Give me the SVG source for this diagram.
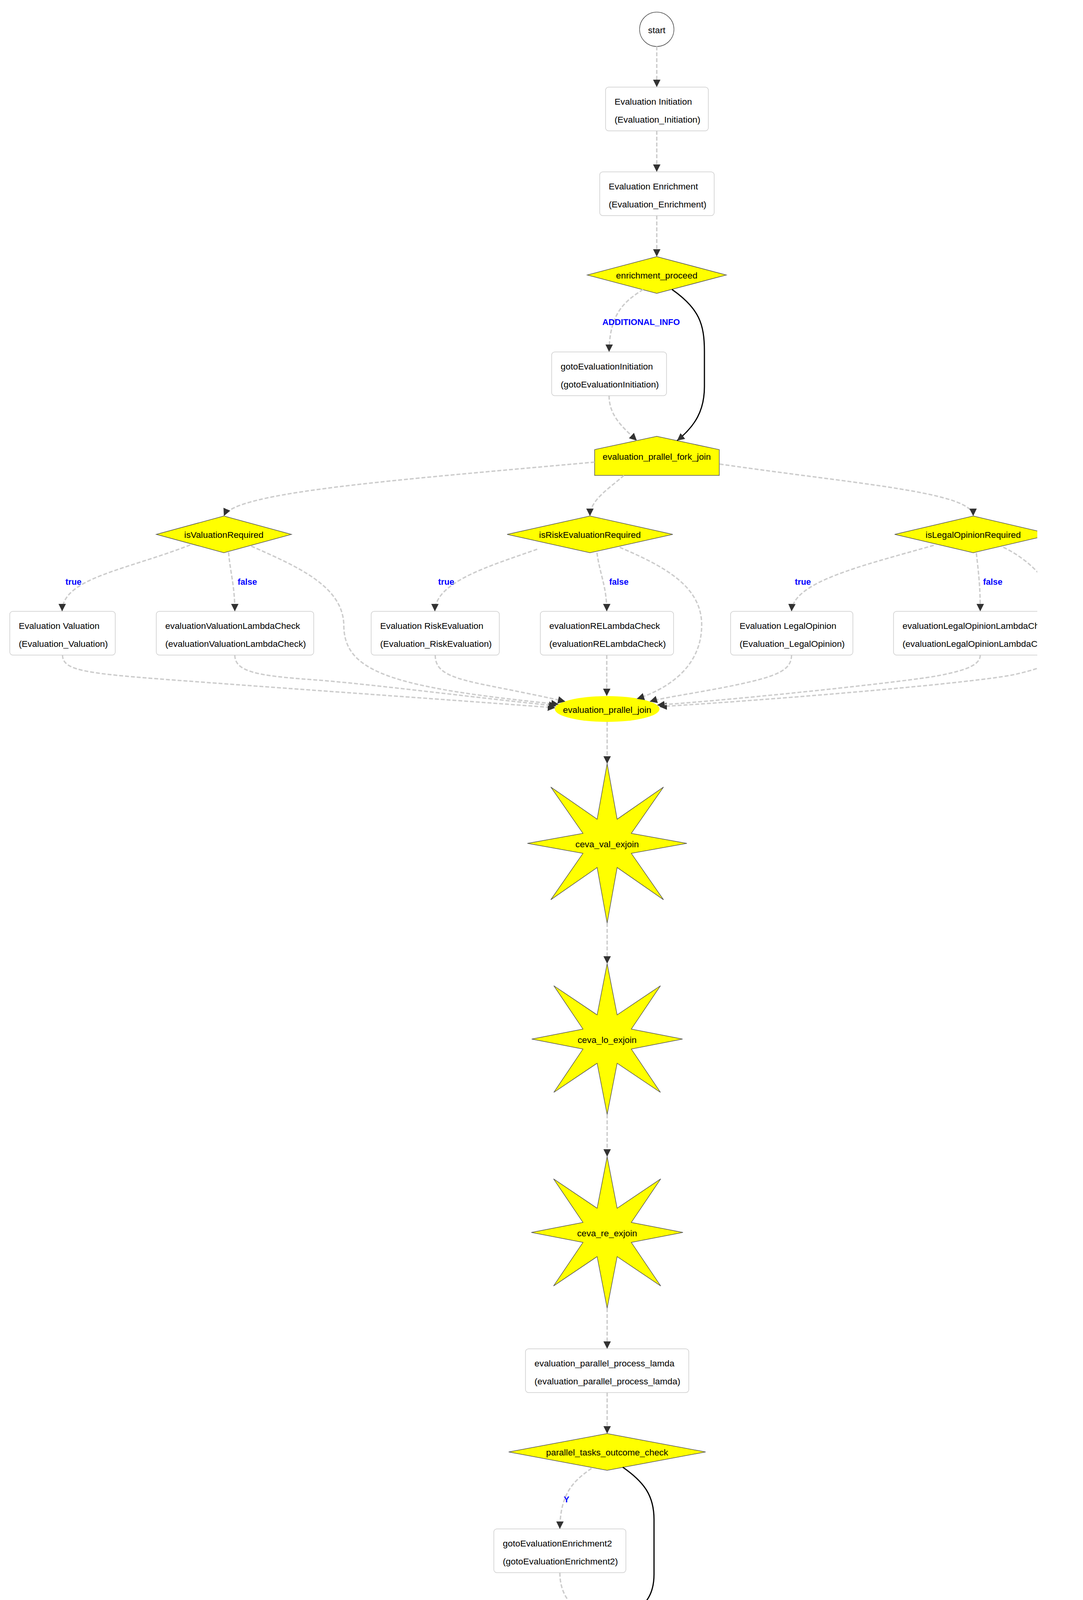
<svg xmlns="http://www.w3.org/2000/svg" width="2772" height="7256" viewBox="0 0 2772 7256">
<style>
.box{fill:#ffffff;stroke:#cccccc;stroke-width:1.5}
.dec{fill:#ffff00;stroke:#555555;stroke-width:1.5}
.circ{fill:#ffffff;stroke:#555555;stroke-width:1.5}
.t{font-family:"Liberation Sans",Arial,Helvetica,sans-serif;font-size:22.85px;fill:#000000}
.c{text-anchor:middle}
.lbl{font-family:"Liberation Sans",Arial,Helvetica,sans-serif;font-size:21.8px;font-weight:bold;fill:#0000ff;text-anchor:middle}
.dash{fill:none;stroke:#cccccc;stroke-width:3.5;stroke-dasharray:10 5;marker-end:url(#ah)}
.solid{fill:none;stroke:#000000;stroke-width:3;marker-end:url(#ah)}
</style>
<defs>
<marker id="ah" viewBox="0 0 20 20" markerWidth="20" markerHeight="20" markerUnits="userSpaceOnUse" refX="19" refY="10" orient="auto">
<path d="M0,0.5 L19,10 L0,19.5 z" fill="#333333"/>
</marker>
<clipPath id="clip"><rect x="0" y="0" width="2655" height="7256"/></clipPath>
</defs>
<rect x="0" y="0" width="2772" height="7256" fill="#ffffff"/>
<g clip-path="url(#clip)">
<g id="nodes">
<g id="start"><circle class="circ" cx="1681" cy="75" r="44"/><text class="t c" x="1681" y="85">start</text></g>
<g id="Evaluation_Initiation"><rect class="box" x="1550" y="223" width="263" height="112" rx="8"/><text class="t" x="1573" y="268">Evaluation Initiation</text><text class="t" x="1573" y="314">(Evaluation_Initiation)</text></g>
<g id="Evaluation_Enrichment"><rect class="box" x="1535" y="440" width="293" height="112" rx="8"/><text class="t" x="1558" y="485">Evaluation Enrichment</text><text class="t" x="1558" y="531">(Evaluation_Enrichment)</text></g>
<g id="enrichment_proceed"><polygon class="dec" points="1681,657 1859,704 1681,751 1503,704"/><text class="t c" x="1681" y="713">enrichment_proceed</text></g>
<g id="gotoEvaluationInitiation"><rect class="box" x="1412" y="901" width="294" height="112" rx="8"/><text class="t" x="1435" y="946">gotoEvaluationInitiation</text><text class="t" x="1435" y="992">(gotoEvaluationInitiation)</text></g>
<g id="evaluation_prallel_fork_join"><polygon class="dec" points="1681,1117 1841,1151 1841,1217 1522,1217 1522,1151"/><text class="t c" x="1681" y="1177">evaluation_prallel_fork_join</text></g>
<g id="isValuationRequired"><polygon class="dec" points="573,1321 746,1368 573,1415 400,1368"/><text class="t c" x="573" y="1377">isValuationRequired</text></g>
<g id="isRiskEvaluationRequired"><polygon class="dec" points="1510,1321 1722,1368 1510,1415 1298,1368"/><text class="t c" x="1510" y="1377">isRiskEvaluationRequired</text></g>
<g id="isLegalOpinionRequired"><polygon class="dec" points="2491,1321 2692,1368 2491,1415 2290,1368"/><text class="t c" x="2491" y="1377">isLegalOpinionRequired</text></g>
<g id="Evaluation_Valuation"><rect class="box" x="25" y="1565" width="270" height="112" rx="8"/><text class="t" x="48" y="1610">Evaluation Valuation</text><text class="t" x="48" y="1656">(Evaluation_Valuation)</text></g>
<g id="evaluationValuationLambdaCheck"><rect class="box" x="400" y="1565" width="403" height="112" rx="8"/><text class="t" x="423" y="1610">evaluationValuationLambdaCheck</text><text class="t" x="423" y="1656">(evaluationValuationLambdaCheck)</text></g>
<g id="Evaluation_RiskEvaluation"><rect class="box" x="950" y="1565" width="328" height="112" rx="8"/><text class="t" x="973" y="1610">Evaluation RiskEvaluation</text><text class="t" x="973" y="1656">(Evaluation_RiskEvaluation)</text></g>
<g id="evaluationRELambdaCheck"><rect class="box" x="1383" y="1565" width="341" height="112" rx="8"/><text class="t" x="1406" y="1610">evaluationRELambdaCheck</text><text class="t" x="1406" y="1656">(evaluationRELambdaCheck)</text></g>
<g id="Evaluation_LegalOpinion"><rect class="box" x="1870" y="1565" width="313" height="112" rx="8"/><text class="t" x="1893" y="1610">Evaluation LegalOpinion</text><text class="t" x="1893" y="1656">(Evaluation_LegalOpinion)</text></g>
<g id="evaluationLegalOpinionLambdaCheck"><rect class="box" x="2287" y="1565" width="444" height="112" rx="8"/><text class="t" x="2310" y="1610">evaluationLegalOpinionLambdaCheck</text><text class="t" x="2310" y="1656">(evaluationLegalOpinionLambdaCheck)</text></g>
<g id="evaluation_prallel_join"><ellipse cx="1554" cy="1815" rx="134" ry="33" fill="#ffff00"/><text class="t c" x="1554" y="1825">evaluation_prallel_join</text></g>
<g id="ceva_val_exjoin"><polygon class="dec" points="1554,1955 1579.6,2097.1 1698.3,2014.8 1615.9,2133.4 1758,2159 1615.9,2184.6 1698.3,2303.3 1579.6,2220.9 1554,2363 1528.4,2220.9 1409.8,2303.3 1492.1,2184.6 1350,2159 1492.1,2133.4 1409.8,2014.8 1528.4,2097.1"/><text class="t c" x="1554" y="2169">ceva_val_exjoin</text></g>
<g id="ceva_lo_exjoin"><polygon class="dec" points="1554,2467 1579.6,2598.1 1690.5,2523.5 1615.9,2634.4 1747,2660 1615.9,2685.6 1690.5,2796.5 1579.6,2721.9 1554,2853 1528.4,2721.9 1417.5,2796.5 1492.1,2685.6 1361,2660 1492.1,2634.4 1417.5,2523.5 1528.4,2598.1"/><text class="t c" x="1554" y="2670">ceva_lo_exjoin</text></g>
<g id="ceva_re_exjoin"><polygon class="dec" points="1554,2961 1579.6,3093.1 1691.2,3017.8 1615.9,3129.4 1748,3155 1615.9,3180.6 1691.2,3292.2 1579.6,3216.9 1554,3349 1528.4,3216.9 1416.8,3292.2 1492.1,3180.6 1360,3155 1492.1,3129.4 1416.8,3017.8 1528.4,3093.1"/><text class="t c" x="1554" y="3165">ceva_re_exjoin</text></g>
<g id="evaluation_parallel_process_lamda"><rect class="box" x="1345" y="3453" width="418" height="112" rx="8"/><text class="t" x="1368" y="3498">evaluation_parallel_process_lamda</text><text class="t" x="1368" y="3544">(evaluation_parallel_process_lamda)</text></g>
<g id="parallel_tasks_outcome_check"><polygon class="dec" points="1554,3670 1806,3717 1554,3764 1302,3717"/><text class="t c" x="1554" y="3726">parallel_tasks_outcome_check</text></g>
<g id="gotoEvaluationEnrichment2"><rect class="box" x="1264" y="3914" width="338" height="112" rx="8"/><text class="t" x="1287" y="3959">gotoEvaluationEnrichment2</text><text class="t" x="1287" y="4005">(gotoEvaluationEnrichment2)</text></g>
<g id="Evaluation_Review_And_Recommendation"><rect class="box" x="1304" y="4131" width="499" height="112" rx="8"/><text class="t" x="1327" y="4176">Evaluation Review And Recommendation</text><text class="t" x="1327" y="4222">(Evaluation_Review_And_Recommendation)</text></g>
<g id="review_proceed"><polygon class="dec" points="1554,4347 1699,4394 1554,4441 1409,4394"/><text class="t c" x="1554" y="4403">review_proceed</text></g>
<g id="gotoEvaluationEnrichment"><rect class="box" x="1268" y="4591" width="326" height="112" rx="8"/><text class="t" x="1291" y="4636">gotoEvaluationEnrichment</text><text class="t" x="1291" y="4682">(gotoEvaluationEnrichment)</text></g>
<g id="Evaluation_Approval"><rect class="box" x="1420" y="4808" width="267" height="112" rx="8"/><text class="t" x="1443" y="4853">Evaluation Approval</text><text class="t" x="1443" y="4899">(Evaluation_Approval)</text></g>
<g id="approval_proceed"><polygon class="dec" points="1554,5024 1714,5071 1554,5118 1394,5071"/><text class="t c" x="1554" y="5080">approval_proceed</text></g>
<g id="gotoEvaluationReviewAndRecommendation"><rect class="box" x="1139" y="5269" width="504" height="112" rx="8"/><text class="t" x="1162" y="5314">gotoEvaluationReviewAndRecommendation</text><text class="t" x="1162" y="5360">(gotoEvaluationReviewAndRecommendation)</text></g>
<g id="Evaluation_Customer_Notification"><rect class="box" x="1352" y="5485" width="403" height="112" rx="8"/><text class="t" x="1375" y="5530">Evaluation Customer Notification</text><text class="t" x="1375" y="5576">(Evaluation_Customer_Notification)</text></g>
<g id="customer_notification_proceed"><polygon class="dec" points="1554,5702 1804,5749 1554,5796 1304,5749"/><text class="t c" x="1554" y="5758">customer_notification_proceed</text></g>
<g id="gotoEvaluationApproval"><rect class="box" x="1281" y="5946" width="300" height="112" rx="8"/><text class="t" x="1304" y="5991">gotoEvaluationApproval</text><text class="t" x="1304" y="6037">(gotoEvaluationApproval)</text></g>
<g id="Evaluation_Customer_Agreement"><rect class="box" x="1353" y="6163" width="401" height="112" rx="8"/><text class="t" x="1376" y="6208">Evaluation Customer Agreement</text><text class="t" x="1376" y="6254">(Evaluation_Customer_Agreement)</text></g>
<g id="customer_agreement_proceed"><polygon class="dec" points="1554,6380 1804,6426 1554,6473 1304,6426"/><text class="t c" x="1554" y="6435">customer_agreement_proceed</text></g>
<g id="isPerfectionToBeInitiated"><polygon class="dec" points="1222,6624 1429,6670 1222,6717 1015,6670"/><text class="t c" x="1222" y="6679">isPerfectionToBeInitiated</text></g>
<g id="Collateral_Perfection_Process"><rect class="box" x="911" y="6868" width="366" height="112" rx="8"/><text class="t" x="934" y="6913">Collateral_Perfection_Process</text><text class="t" x="934" y="6959">(Collateral_Perfection_Process)</text></g>
<g id="gotoEvaluationReviewAndRecommendation1"><rect class="box" x="1423" y="6868" width="517" height="112" rx="8"/><text class="t" x="1446" y="6913">gotoEvaluationReviewAndRecommendation1</text><text class="t" x="1446" y="6959">(gotoEvaluationReviewAndRecommendation1)</text></g>
<g id="final"><circle class="circ" cx="1515" cy="7127" r="44"/><text class="t c" x="1515" y="7138">final</text></g>
</g>
<g id="connectors">
<path class="dash" d="M1681,119 L1681,223"/>
<path class="dash" d="M1681,335 L1681,440"/>
<path class="dash" d="M1681,552 L1681,657"/>
<path class="dash" d="M1646,741 C1600,771 1560,800 1559,901"/>
<text class="lbl" x="1641" y="832">ADDITIONAL_INFO</text>
<path class="solid" d="M1720,741 C1790,790 1803,830 1803,900 L1803,990 C1803,1050 1780,1090 1733,1128"/>
<path class="dash" d="M1559,1013 C1559,1065 1595,1095 1630,1128"/>
<path class="dash" d="M1522,1183 C1000,1230 600,1260 573,1321"/>
<path class="dash" d="M1597,1217 C1560,1250 1510,1280 1510,1321"/>
<path class="dash" d="M1842,1188 C2200,1240 2490,1260 2491,1321"/>
<path class="dash" d="M487,1395 C320,1460 160,1480 159,1565"/>
<text class="lbl" x="188" y="1497">true</text>
<path class="dash" d="M585,1414 C590,1470 601,1500 601,1565"/>
<text class="lbl" x="633" y="1497">false</text>
<path class="dash" d="M643,1398 C760,1450 878,1500 880,1600 C880,1720 1000,1760 1430,1803"/>
<path class="dash" d="M1375,1406 C1250,1450 1114,1490 1113,1565"/>
<text class="lbl" x="1142" y="1497">true</text>
<path class="dash" d="M1528,1415 C1535,1470 1553,1500 1553,1565"/>
<text class="lbl" x="1584" y="1497">false</text>
<path class="dash" d="M1586,1401 C1700,1450 1796,1500 1796,1600 C1796,1700 1720,1760 1630,1789"/>
<path class="dash" d="M2390,1396 C2200,1450 2030,1490 2026,1565"/>
<text class="lbl" x="2055" y="1497">true</text>
<path class="dash" d="M2499,1416 C2505,1470 2509,1500 2509,1565"/>
<text class="lbl" x="2541" y="1497">false</text>
<path class="dash" d="M2568,1401 C2650,1440 2720,1520 2720,1620 C2720,1690 2690,1705 2600,1726 S2000,1790 1688,1809"/>
<path class="dash" d="M160,1677 C160,1720 230,1725 500,1745 S1200,1795 1421,1812"/>
<path class="dash" d="M601,1677 C601,1720 660,1730 800,1740 S1250,1790 1424,1807"/>
<path class="dash" d="M1114,1677 C1114,1720 1150,1735 1250,1755 S1400,1785 1447,1796"/>
<path class="dash" d="M1553,1677 L1553,1782"/>
<path class="dash" d="M2026,1677 C2026,1715 1990,1730 1900,1750 S1700,1785 1663,1796"/>
<path class="dash" d="M2509,1677 C2509,1700 2480,1715 2400,1730 S1900,1790 1682,1805"/>
<path class="dash" d="M1554,1848 L1554,1955"/>
<path class="dash" d="M1554,2363 L1554,2467"/>
<path class="dash" d="M1554,2853 L1554,2961"/>
<path class="dash" d="M1554,3349 L1554,3453"/>
<path class="dash" d="M1554,3565 L1554,3670"/>
<path class="dash" d="M1514,3759 C1470,3790 1434,3820 1433,3914"/>
<text class="lbl" x="1450" y="3846">Y</text>
<path class="solid" d="M1594,3756 C1650,3795 1674,3830 1674,3890 L1674,4030 C1674,4080 1655,4105 1620,4131"/>
<path class="dash" d="M1433,4026 C1433,4080 1460,4110 1490,4131"/>
<path class="dash" d="M1554,4243 L1554,4347"/>
<path class="dash" d="M1514,4436 C1470,4465 1432,4500 1431,4591"/>
<text class="lbl" x="1513" y="4524">ADDITIONAL_INFO</text>
<path class="solid" d="M1591,4432 C1650,4470 1676,4510 1676,4570 L1676,4710 C1676,4760 1655,4785 1622,4808"/>
<path class="dash" d="M1431,4703 C1431,4760 1455,4785 1484,4808"/>
<path class="dash" d="M1554,4920 L1554,5024"/>
<path class="dash" d="M1510,5106 C1440,5140 1392,5180 1391,5269"/>
<text class="lbl" x="1473" y="5202">ADDITIONAL_INFO</text>
<path class="solid" d="M1600,5106 C1680,5150 1716,5190 1716,5260 L1716,5390 C1716,5440 1690,5465 1646,5485"/>
<path class="dash" d="M1391,5381 C1391,5440 1420,5465 1459,5485"/>
<path class="dash" d="M1554,5597 L1554,5702"/>
<path class="dash" d="M1515,5792 C1460,5820 1432,5860 1431,5946"/>
<text class="lbl" x="1513" y="5878">ADDITIONAL_INFO</text>
<path class="solid" d="M1595,5790 C1650,5830 1676,5870 1676,5930 L1676,6070 C1676,6120 1655,6145 1618,6163"/>
<path class="dash" d="M1431,6058 C1431,6110 1455,6140 1482,6163"/>
<path class="dash" d="M1554,6275 L1554,6380"/>
<path class="dash" d="M1470,6457 C1330,6510 1222,6550 1222,6624"/>
<text class="lbl" x="1266" y="6556">ACCEPT</text>
<path class="dash" d="M1597,6467 C1650,6520 1680,6560 1680,6620 L1681,6868"/>
<text class="lbl" x="1763" y="6678">ADDITIONAL_INFO</text>
<path class="solid" d="M1659,6455 C1900,6540 2013,6570 2013,6680 L2013,6930 C2013,7040 1850,7070 1558,7117"/>
<path class="dash" d="M1184,6710 C1130,6760 1095,6800 1094,6868"/>
<text class="lbl" x="1110" y="6799">Y</text>
<path class="solid" d="M1263,6710 C1320,6780 1350,6830 1350,6900 L1350,6980 C1350,7050 1400,7080 1477,7106"/>
<path class="dash" d="M1094,6980 C1094,7040 1200,7080 1471,7124"/>
<path class="dash" d="M1681,6980 C1681,7040 1630,7070 1553,7104"/>
</g>
</g>
</svg>
